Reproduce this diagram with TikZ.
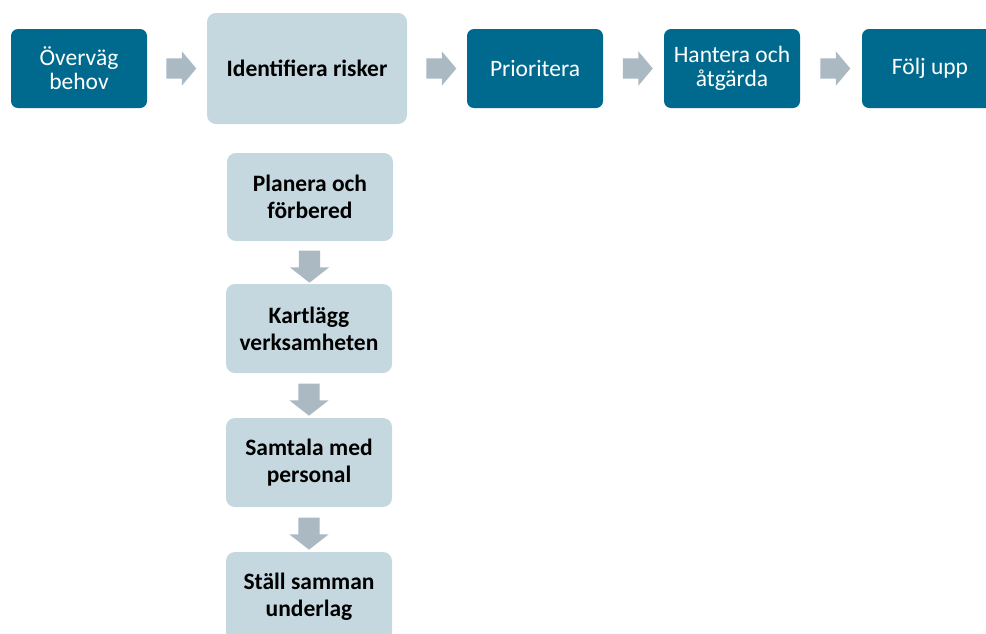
\documentclass[tikz,border=0pt]{standalone}
\usepackage{fontspec}
\setmainfont{Carlito}
\usepackage{tikz}
\usetikzlibrary{shapes.arrows,calc}
\definecolor{stepteal}{RGB}{0, 106, 142}
\definecolor{substeplight}{RGB}{197, 216, 223}
\definecolor{arrowgrey}{RGB}{171, 185, 195}

\begin{document}
\begin{tikzpicture}[x=1pt,y=-1pt,
    mainbox/.style={fill=stepteal,text=white,rounded corners=7pt,minimum width=136pt,minimum height=79pt,inner sep=0pt,align=center,font=\fontsize{23.5}{24}\selectfont},
    subbox/.style={fill=substeplight,text=black,rounded corners=9pt,minimum width=166pt,minimum height=89pt,inner sep=0pt,align=center,font=\fontsize{23.5}{27}\selectfont\bfseries},
    harrow/.style={single arrow,fill=arrowgrey,inner xsep=0pt,inner ysep=10pt,minimum height=30pt,single arrow head extend=7pt,single arrow tip angle=100},
    varrow/.style={harrow,rotate=-90,inner ysep=10.5pt,minimum height=32pt,single arrow head extend=9pt,single arrow tip angle=104}]
    \clip (0,0) rectangle (986,633);
    % top row
    \node[mainbox] (behov) at (79,68.5) {Överväg\\behov};
    \node[subbox,minimum width=200pt,minimum height=111pt] (risker) at (307,68.5) {Identifiera risker};
    \node[mainbox] (prio) at (535,68.5) {Prioritera};
    \node[mainbox] (hantera) at (732,68.5) {Hantera och\\åtgärda};
    \node[mainbox] (folj) at (930,68.5) {Följ upp};
    \node[harrow] (a1) at ($(behov.east)!0.5!(risker.west)$) {};
    \node[harrow] (a2) at ($(risker.east)!0.5!(prio.west)$) {};
    \node[harrow] (a3) at ($(prio.east)!0.5!(hantera.west)$) {};
    \node[harrow] (a4) at ($(hantera.east)!0.5!(folj.west)$) {};
    % sub steps
    \node[subbox,minimum height=88pt] (planera) at (310,197) {Planera och\\förbered};
    \node[subbox] (kartlagg) at (309,328.5) {Kartlägg\\verksamheten};
    \node[subbox] (samtala) at (309,462.5) {Samtala med\\personal};
    \node[subbox] (stall) at (309,596.5) {Ställ samman\\underlag};
    \node[varrow] (b1) at ($(planera.south)!0.5!(kartlagg.north)$) {};
    \node[varrow] (b2) at ($(kartlagg.south)!0.5!(samtala.north)$) {};
    \node[varrow] (b3) at ($(samtala.south)!0.5!(stall.north)$) {};
\end{tikzpicture}
\end{document}
